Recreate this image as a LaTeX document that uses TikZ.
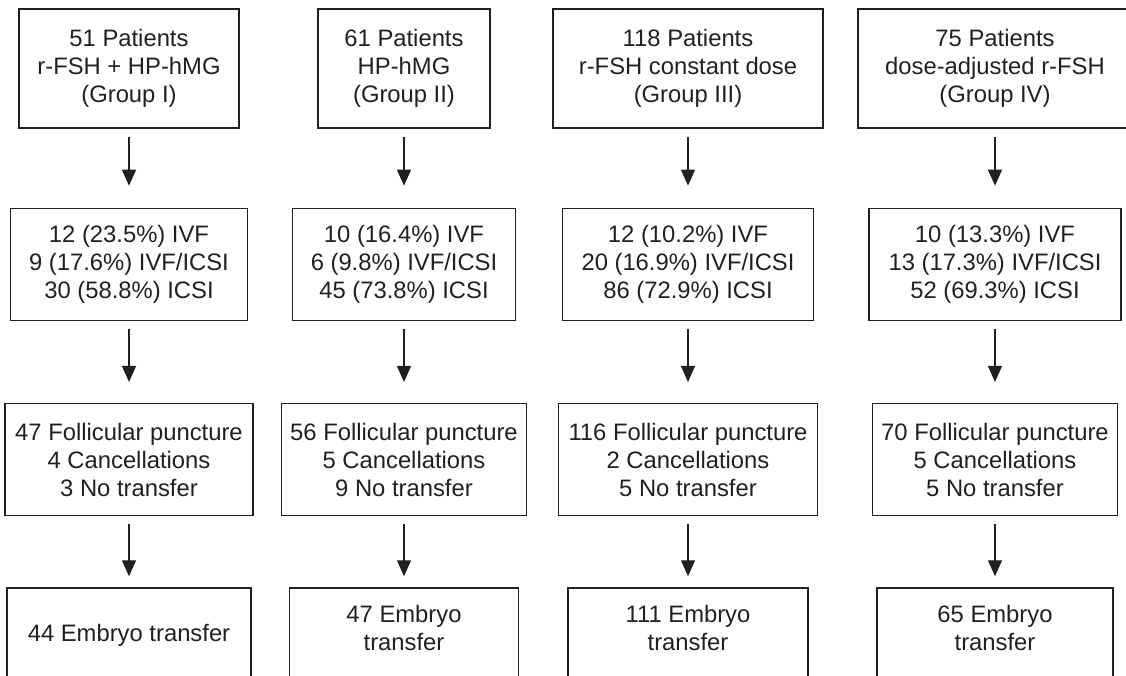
\documentclass[tikz,border=0pt]{standalone}
\usepackage{fontspec}
\setmainfont{Liberation Sans}
\usetikzlibrary{arrows.meta,positioning}
\definecolor{InkBlack}{HTML}{231F20}

\begin{document}
\begin{tikzpicture}[x=1pt,y=1pt,
    box/.style={draw=InkBlack,line width=1.3pt,inner sep=0pt,align=center,text=InkBlack,
      font=\fontsize{23.8}{28}\selectfont},
    arr/.style={-{Triangle[width=14pt,length=16pt]},line width=1.3pt,InkBlack,shorten <=8pt}]
    \clip (0,0) rectangle (1126,-675);
    % patients per group
    \node[box,minimum width=220pt,minimum height=119pt] (patientsI) at (129,-68.5) {51 Patients\\r-FSH + HP-hMG\\(Group I)};
    \node[box,minimum width=172pt,minimum height=119pt] (patientsII) at (404,-68.5) {61 Patients\\HP-hMG\\(Group II)};
    \node[box,minimum width=270pt,minimum height=119pt] (patientsIII) at (688,-68.5) {118 Patients\\r-FSH constant dose\\(Group III)};
    \node[box,minimum width=274pt,minimum height=119pt] (patientsIV) at (995,-68.5) {75 Patients\\dose-adjusted r-FSH\\(Group IV)};
    % technique
    \node[box,minimum width=237pt,minimum height=112pt,below=79pt of patientsI] (methodI) {12 (23.5\%) IVF\\9 (17.6\%) IVF/ICSI\\30 (58.8\%) ICSI};
    \node[box,minimum width=223pt,minimum height=112pt,below=79pt of patientsII] (methodII) {10 (16.4\%) IVF\\6 (9.8\%) IVF/ICSI\\45 (73.8\%) ICSI};
    \node[box,minimum width=251pt,minimum height=112pt,below=79pt of patientsIII] (methodIII) {12 (10.2\%) IVF\\20 (16.9\%) IVF/ICSI\\86 (72.9\%) ICSI};
    \node[box,minimum width=252pt,minimum height=112pt,below=79pt of patientsIV] (methodIV) {10 (13.3\%) IVF\\13 (17.3\%) IVF/ICSI\\52 (69.3\%) ICSI};
    % puncture
    \node[box,minimum width=248pt,minimum height=112pt,below=82pt of methodI] (punctI) {47 Follicular puncture\\4 Cancellations\\3 No transfer};
    \node[box,minimum width=245pt,minimum height=112pt,below=82pt of methodII] (punctII) {56 Follicular puncture\\5 Cancellations\\9 No transfer};
    \node[box,minimum width=259pt,minimum height=112pt,below=82pt of methodIII] (punctIII) {116 Follicular puncture\\2 Cancellations\\5 No transfer};
    \node[box,minimum width=245pt,minimum height=112pt,below=82pt of methodIV] (punctIV) {70 Follicular puncture\\5 Cancellations\\5 No transfer};
    % transfer
    \node[box,minimum width=244pt,minimum height=94pt,below=71pt of punctI] (transI) {44 Embryo transfer};
    \node[box,minimum width=229pt,minimum height=94pt,text depth=14pt,below=71pt of punctII] (transII) {47 Embryo\\transfer};
    \node[box,minimum width=240pt,minimum height=94pt,text depth=14pt,below=71pt of punctIII] (transIII) {111 Embryo\\transfer};
    \node[box,minimum width=236pt,minimum height=94pt,text depth=14pt,below=71pt of punctIV] (transIV) {65 Embryo\\transfer};
    \draw[arr,shorten >=22pt] (patientsI)--(methodI); \draw[arr,shorten >=22pt] (patientsII)--(methodII);
    \draw[arr,shorten >=22pt] (patientsIII)--(methodIII); \draw[arr,shorten >=22pt] (patientsIV)--(methodIV);
    \draw[arr,shorten >=21pt] (methodI)--(punctI); \draw[arr,shorten >=21pt] (methodII)--(punctII);
    \draw[arr,shorten >=21pt] (methodIII)--(punctIII); \draw[arr,shorten >=21pt] (methodIV)--(punctIV);
    \draw[arr,shorten >=11pt] (punctI)--(transI); \draw[arr,shorten >=11pt] (punctII)--(transII);
    \draw[arr,shorten >=11pt] (punctIII)--(transIII); \draw[arr,shorten >=11pt] (punctIV)--(transIV);
  \end{tikzpicture}
\end{document}
